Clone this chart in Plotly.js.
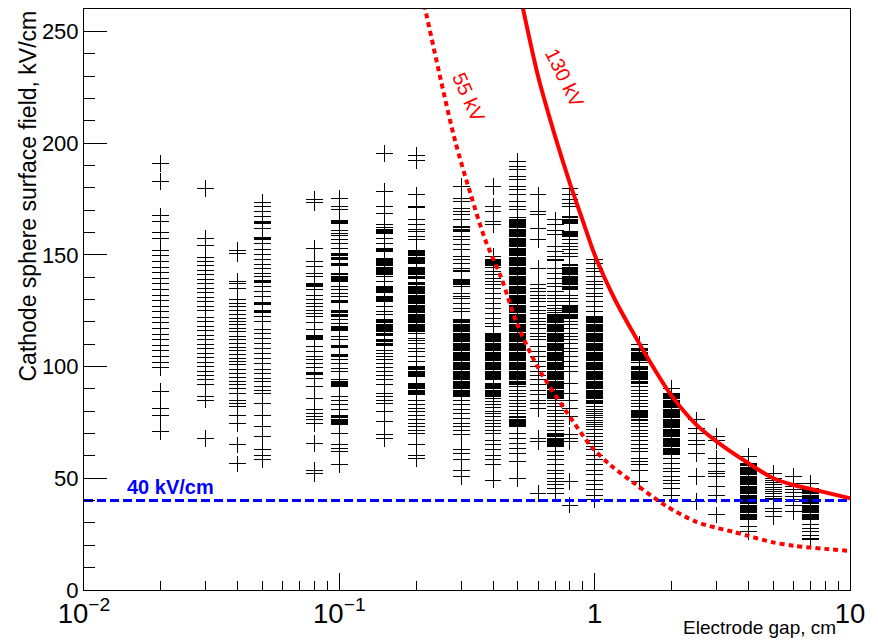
<!DOCTYPE html>
<html>
<head>
<meta charset="utf-8">
<script src="https://cdn.plot.ly/plotly-3.0.1.min.js"></script>
<style>
html,body{margin:0;padding:0;background:#fff;}
#chart{width:878px;height:643px;}
.scatterlayer .trace:first-child .point{shape-rendering:crispEdges;}
</style>
</head>
<body>
<div id="chart"></div>
<script>
// Electrode gaps (cm) of the measured columns
const gapCm = [0.02,0.03,0.04,0.05,0.08,0.1,0.15,0.2,0.3,0.4,0.5,0.6,0.7,0.8,1,1.5,2,2.5,3,4,5,6,7];

// Cathode sphere surface field (kV/cm) per gap
const field_0p02 = [190.7,182.8,167.4,164.9,160,157.4,152,149.5,147,144.5,142,139.5,137,134.5,132,129.5,127,124.5,122,119.5,117,114.5,112,109.5,107,104.5,102,99.5,88.8,81.3,78.3,70.9];
const field_0p03 = [179.5,157.4,154,149,147,145,143,141,139,137,135,133,131,129,127,125,122,120,118,116,114,112,110,108,106,104,102,100,98,96,94,92,86.4,85,67.9];
const field_0p04 = [152,150.6,138,137.3,135,129.8,128.3,126.8,125.3,123.1,121.6,120.1,118.6,117.1,115.6,113.4,111.9,110.1,108.6,107.1,105.2,103.7,102.2,100.7,98.5,97,95.2,93.3,91.8,90.3,88,85,83.6,82,78.3,74.6,64.9,56.4];
const field_0p05 = [173.4,171.6,169.3,167.1,164.9,164.4,164,161.9,157.9,157.4,156.9,155.2,152.2,150,147.7,145.5,144,141.8,140.3,138.5,138,137.5,135.8,133.5,131.3,128.8,128.3,127.8,125.1,124.6,124.1,122.3,120.1,116.4,114.9,112.7,110.4,108.2,105.9,103.7,101.5,98.5,97,94.8,93.3,91,89.5,88,83.6,77.9,73.1,68.6,62.7,60.4,58.2];
const field_0p08 = [174.6,173.4,153,147,144.7,141.8,140.3,137.3,136.8,136.3,135.8,134.3,132,129.8,128.3,126.8,125.3,123.9,122.3,119.7,116.4,114.1,113.6,113.1,112.6,112.1,108.9,106.7,104.4,103,101.5,99.7,97.5,97,96.5,94.8,91,85.8,80.6,79.1,77.6,76.1,74.6,65.7,53.7,52.2];
const field_0p1 = [175.3,171.6,170.1,165.5,165,164.5,164,161.1,159.7,158.5,156.7,155.2,153,150.5,150,149.5,149,148.5,148,146,145.5,145,141.5,141,140.5,140,139.5,139,138.5,138,135.8,134.3,132.8,131.3,129.5,129,128.5,125,124.5,124,123.5,123,122.5,120.9,119.4,118,117.5,117,116.5,116,113.4,111.9,109.5,109,108.5,105.5,105,104.5,103,101.5,99.2,97.7,94,93.5,93,92.5,92,91.5,91,86.5,85,82.8,80.6,78,77.5,77,76.5,76,75.5,75,74.5,74,70.1,64.9,63.4,61.9,56];
const field_0p15 = [195.5,178.3,171.6,168.6,163.4,162,161.5,161,160.5,160,159.5,157.4,155.2,153,152.5,152,151.5,148.5,148,147.5,147,146.5,146,145.5,145,144.5,144,143.5,143,142.5,142,141.5,141,140.5,138,136,135.5,135,134.5,134,133.5,133,131.5,131,130.5,130,129.5,129,126.8,124.6,123.1,121,120.5,120,119.5,119,118.5,118,117.5,117,116.5,116,115.5,115,114.5,114,112,111.5,111,110.5,110,109.5,107.4,105.9,104.4,103,101.5,99.7,97.7,95.8,94,91.8,88,86.5,84.7,83.6,79.8,75.3,69.4,67.9];
const field_0p2 = [194.3,192.2,176.8,171.5,171,165.6,163.4,161.5,160.4,158.2,156.7,152,151.5,151,150.5,150,149.5,149,148.5,148,147.5,147,146.5,146,144.5,144,143.5,143,142.5,142,141.5,141,140.5,140,139.5,137.5,137,136.5,136,135.5,135,134.5,134,133.5,133,132.5,132,131.5,131,130.5,130,129.5,129,128.5,128,127.5,127,126.5,126,125.5,125,124.5,124,123.5,123,122.5,122,121.5,121,120.5,120,119.5,119,118.5,118,117.5,117,116.5,116,115.5,115,112.7,111.5,110.4,108.2,106.7,104.4,102.2,100,99.5,99,98.5,98,97.5,97,96.5,96,95.5,92.5,92,91.5,91,90.5,90,89.5,89,88.5,88,87.5,85,82.8,81.3,79.8,78.3,76.1,74.6,73.1,71.6,70.1,64.9,60.4,59];
const field_0p3 = [180.5,175.3,173.8,170.9,169.3,167.9,165.6,162.5,162,161.5,161,160.5,158.2,156.7,154.4,152.2,149.2,147.7,146.2,144,143,142.5,139,138.5,138,137.5,137,136.5,136,132.8,131.5,130.6,128.3,126.1,124.6,121,120.5,120,119.5,119,118.5,118,117.5,117,116.5,116,115.5,115,114.5,114,113.5,113,112.5,112,111.5,111,110.5,110,109.5,109,108.5,108,107.5,107,106.5,106,105.5,105,104.5,104,103.5,103,102.5,102,101.5,101,100.5,100,99.5,99,98.5,98,97.5,97,96.5,96,95.5,95,94.5,94,93.5,93,92.5,92,91.5,91,90.5,90,89.5,89,88.5,88,87.5,87,86.5,85,82.8,80.6,79.1,76.9,74.6,73.1,71.6,69.4,62.7,61.2,58.2,53.7,50.7];
const field_0p4 = [180.5,171.6,169.3,164.9,163.4,149.2,148,147.5,147,146.5,146,145.5,145,144.5,142.5,141,139.5,138,136.5,135,132.8,130.6,128.3,126.1,123.9,121.6,119.4,117.9,115,114.5,114,113.5,113,112.5,112,111.5,111,110.5,110,109.5,109,108.5,108,107.5,107,106.5,106,105.5,105,104.5,104,103.5,103,102.5,102,101.5,101,100.5,100,99.5,99,98.5,98,97.5,97,96.5,96,95.5,95,94.5,94,92.5,92,91.5,91,90.5,90,89.5,89,88.5,88,87.5,87,86.5,85.8,84.5,83,81.5,80,79,77.6,76,74.5,73,71.6,70.1,67.1,64.9,62.7,60.4,58.2,56,49.2];
const field_0p5 = [191.7,189.5,188,185,183.5,180.5,179.1,176.8,173.8,171.6,170.1,166.5,166,165.5,165,164.5,164,163.5,163,162.5,162,161.5,161,160.5,160,159.5,159,158.5,158,157.5,157,156.5,156,155.5,155,154.5,154,153.5,153,152.5,152,151.5,151,150.5,150,149.5,149,148.5,148,147.5,147,146.5,146,145.5,145,144.5,144,143.5,143,142.5,142,141.5,141,140.5,140,139.5,139,138.5,138,137.5,137,136.5,136,135.5,135,134.5,134,133.5,133,132.5,132,131.5,131,130.5,130,129.5,129,128.5,128,127.5,127,126.5,126,125.5,125,124.5,124,123.5,123,122.5,122,121.5,121,120.5,120,119.5,119,118.5,118,117.5,117,116.5,116,115.5,115,114.5,114,113.5,113,112.5,112,111.5,111,110.5,110,109.5,109,108.5,108,107.5,107,106.5,106,105.5,105,104.5,104,103.5,103,102.5,102,101.5,101,100.5,100,99.5,99,98.5,98,97.5,97,96.5,96,95.5,95,94.5,94,93.5,93,92.5,92,91,89.5,88,86.5,85,83.5,82,80.5,79,77.5,77,76.5,76,75.5,75,74.5,74,73.5,73,70.1,67.9,65.7,63.4,61.2,57.4,50];
const field_0p6 = [176.8,169.3,167.9,161.9,156.7,144,136.5,135,133.5,132,130.6,129.1,126.8,125.3,123.9,121.6,120.1,118.6,117.1,114.9,113.4,111.9,108.9,106.7,104.4,102.2,100,97.7,96.2,94,91.8,89.5,87.3,85,83.6,81.3,67.9,66.4,43.3];
const field_0p7 = [165.6,163.4,161.1,158.9,153.7,151.4,149.2,148,147.5,144,141.8,139.5,137.3,135.8,133.5,132,130.6,129,127.5,126,125.3,124,123.5,123,122.5,122,121.5,121,120.5,120,119.5,119,118.5,118,117.5,117,116.5,116,115.5,115,114.5,114,113.5,113,112.5,112,111.5,111,110.5,110,109.5,109,108.5,108,107.5,107,106.5,106,105.5,105,104.5,104,103.5,103,102.5,102,101.5,101,100.5,100,99.5,99,98.5,98,97.5,97,96.5,96,95.5,95,94.5,94,93.5,93,92.5,92,91.5,91,90.5,90,89.5,89,88.5,88,87.5,87,86.5,86,85.5,85,83.6,82,80.5,79,77.5,76,74.5,73,71.5,70.1,69.5,69,68.5,68,67.5,67,66.5,66,65.5,65,64.5,64,61.9,60.4,58.2,56,53.7,52.2,50,48.5,47,45.5,43.3];
const field_0p8 = [179.8,176.8,174.6,173.1,171.6,167,166.5,166,165.5,165,164.5,164,160.5,160,159.5,159,158.5,158,156.7,155.2,153.7,152.2,150.7,149.2,145.5,145,144.5,144,143.5,143,142.5,142,141.5,141,140.5,140,139.5,139,138.5,138,137.5,137,136.5,136,135.5,135,134.5,132,130.6,129.1,127.5,127,126.5,126,125.5,125,124.5,124,123.5,123,122.5,122,121.5,120.1,118.6,117.1,114.9,113.4,111.9,110.4,108.2,106.7,104.4,102.2,100,97.7,92.5,88,85,81.3,77.6,69.4,67.9,66.4,48.5,38];
const field_1 = [147.7,146.2,144,142.5,140.3,138,136.5,135,132.8,131.3,129.1,126.8,124.6,122.5,122,121.5,121,120.5,120,119.5,119,118.5,118,117.5,117,116.5,116,115.5,115,114.5,114,113.5,113,112.5,112,111.5,111,110.5,110,109.5,109,108.5,108,107.5,107,106.5,106,105.5,105,104.5,104,103.5,103,102.5,102,101.5,101,100.5,100,99.5,99,98.5,98,97.5,97,96.5,96,95.5,95,94.5,94,93.5,93,92.5,92,91.5,91,90.5,90,89.5,89,88.5,88,87.5,87,86.5,86,85.5,85,84.5,84,83.5,82,81,80,79,78,77,76,75,74,73,72,70.1,68.5,67,65.5,64.2,62.7,60.4,58.2,56,53.7,51.5,49.2,47,44.8,42.5,40.3];
const field_1p5 = [109.7,108,107.5,107,106.5,106,105.5,105,104.5,104,103.5,103,102.5,102,100,99.5,99,98.5,98,97.5,97,96.5,96,95.5,95,94.5,94,93.5,93,92.5,91,89.5,88,86.5,85,83.5,82,80.5,80,79.5,79,78.5,78,77.5,77,76.5,76,74.6,73,71.6,70.1,68.6,67.1,64.9,63.4,61.9,59,57.4,56,53.7,48.5];
const field_2 = [90.3,88,87.5,87,86.5,86,85.5,85,84.5,84,83.5,83,82.5,82,81.5,81,80.5,80,79.5,79,78.5,78,77.5,77,76.5,76,75.5,75,74.5,74,73.5,73,72.5,72,71.5,71,70.5,70,69.5,69,68.5,68,67.5,67,66.5,66,65.5,65,64.5,64,63.5,63,62.5,62,61.5,61,60.5,59,56.7,54.5,53,50.7,49.2,47.8,45.5,42.5];
const field_2p5 = [76.1,72.4,70.1,67.1,64.9,61.2,50.7,39.5];
const field_3 = [68.6,67,59,56.7,53,52.2,50.7,46.2,42.5,33.6];
const field_4 = [59.7,56.5,56,55.5,55,54.5,54,53.5,53,52.5,52,51.5,51,50.5,50,49.5,49,48.5,48,47.5,47,46.5,46,45.5,45,44.5,44,43.5,43,42.5,42,41.5,41,40.5,40,39.5,39,38.5,38,37.5,37,36.5,36,35.5,35,34.5,34,33.5,33,32.5,32,31.5,28.4,26.1];
const field_5 = [52.2,50,49,48,47,46,45,44,43,42,41,40.3,36.6,35,32.8];
const field_6 = [50.7,47.8,46.5,45,43.5,42,40.5,39.5,38,35];
const field_7 = [47.8,45.5,45,44.5,44,43.5,43,42.5,42,41.5,41,40.5,40,39.5,39,38.5,38,37.5,37,36.5,36,35.5,35,34.5,34,33.5,33,32.5,32,31.5,29.1,27.5,26,24.5,23,22.4];

const fieldColumns = [field_0p02,field_0p03,field_0p04,field_0p05,field_0p08,field_0p1,field_0p15,field_0p2,field_0p3,field_0p4,field_0p5,field_0p6,field_0p7,field_0p8,field_1,field_1p5,field_2,field_2p5,field_3,field_4,field_5,field_6,field_7];

// Breakdown-limit curves for 55 kV and 130 kV
const curve55Gap = [0.215,0.25,0.284,0.325,0.372,0.433,0.495,0.6,0.766,0.974,1.15,1.46,1.91,2.5,3,3.5,4,5,6,8,10];
const curve55Field = [262,228,201,178,157,139,119.5,99.5,80.6,64,56,47,37.5,30.5,27.8,26,24.2,21.3,19.8,18.4,17.5];
const curve130Gap = [0.52,0.6,0.7,0.8,0.9,1.0,1.2,1.4,1.7,2.0,2.5,3,4,5,6,7,8,10];
const curve130Field = [262,230,203,182,165,150,130,116,99.5,87,74,66.5,56.7,50,47,45.2,43.7,41];

// 40 kV/cm reference level
const refLevelGap = [0.01, 10];
const refLevelField = [40, 40];

const ptsX = [], ptsY = [];
gapCm.forEach((g, i) => { fieldColumns[i].forEach(v => { ptsX.push(g); ptsY.push(v); }); });

const FONT = 'Liberation Sans, Arial, Helvetica, sans-serif';

const traces = [
  {x: ptsX, y: ptsY, type: 'scatter', mode: 'markers',
   marker: {symbol: 'cross-thin', size: 12, color: '#000', line: {width: 1, color: '#000'}}, hoverinfo: 'skip'},
  {x: refLevelGap, y: refLevelField, type: 'scatter', mode: 'lines',
   line: {color: '#0000ff', width: 3, dash: '9px,4px'}},
  {x: curve55Gap, y: curve55Field, type: 'scatter', mode: 'lines',
   line: {color: '#ff0000', width: 4, dash: '5px,4px', shape: 'spline', smoothing: 0.8}},
  {x: curve130Gap, y: curve130Field, type: 'scatter', mode: 'lines',
   line: {color: '#ff0000', width: 4, shape: 'spline', smoothing: 0.8}}
];

const layout = {
  width: 878, height: 643,
  margin: {l: 84, r: 28, t: 9, b: 53, pad: 0},
  paper_bgcolor: '#fff', plot_bgcolor: '#fff',
  showlegend: false,
  font: {family: FONT, color: '#000', size: 22},
  xaxis: {
    type: 'log', range: [-2, 1], dtick: 1, exponentformat: 'power',
    ticks: 'inside', ticklen: 17, tickwidth: 1, tickcolor: '#000',
    minor: {ticks: 'inside', ticklen: 9, dtick: 'D1', tickcolor: '#000', showgrid: false},
    showline: true, mirror: true, linecolor: '#000', linewidth: 1,
    showgrid: false, zeroline: false,
    tickfont: {family: FONT, size: 22, color: '#000'}
  },
  yaxis: {
    range: [0, 260], dtick: 50, tick0: 0,
    ticks: 'inside', ticklen: 23, tickwidth: 1, tickcolor: '#000',
    minor: {ticks: 'inside', ticklen: 11, dtick: 10, tickcolor: '#000', showgrid: false},
    showline: true, mirror: true, linecolor: '#000', linewidth: 1,
    showgrid: false, zeroline: false,
    tickfont: {family: FONT, size: 22, color: '#000'}
  },
  annotations: [
    {text: 'Cathode sphere surface field, kV/cm', xref: 'paper', yref: 'paper',
     x: -0.0744, y: 1.0, xanchor: 'center', yanchor: 'top', textangle: -90, showarrow: false,
     font: {family: FONT, size: 23, color: '#000'}},
    {text: 'Electrode gap, cm', xref: 'paper', yref: 'paper',
     x: 0.984, y: -0.0654, xanchor: 'right', yanchor: 'middle', showarrow: false,
     font: {family: FONT, size: 19, color: '#000'}},
    {text: '<b>40 kV/cm</b>', xref: 'paper', yref: 'y',
     x: 0.0535, y: 46.1, xanchor: 'left', yanchor: 'middle', showarrow: false,
     font: {family: FONT, size: 20, color: '#0000ff'}},
    {text: '55 kV', xref: 'paper', yref: 'paper',
     x: 0.502, y: 0.8485, xanchor: 'center', yanchor: 'middle', textangle: 66, showarrow: false,
     font: {family: FONT, size: 20, color: '#ff0000'}},
    {text: '130 kV', xref: 'paper', yref: 'paper',
     x: 0.6275, y: 0.881, xanchor: 'center', yanchor: 'middle', textangle: 64, showarrow: false,
     font: {family: FONT, size: 20, color: '#ff0000'}}
  ]
};

Plotly.newPlot('chart', traces, layout, {displayModeBar: false, staticPlot: true});
</script>
</body>
</html>
